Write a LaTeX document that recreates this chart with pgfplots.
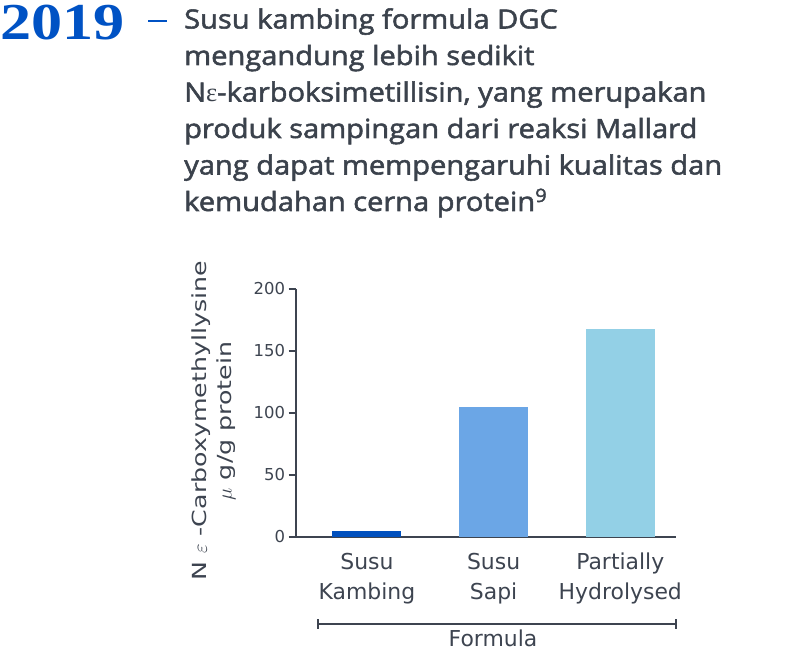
\documentclass[border=0pt]{standalone}
\usepackage{pgfplots}
\pgfplotsset{compat=1.18}
\usepackage{fontspec}
\setmainfont{DejaVu Sans}
\newfontfamily\widefont{DejaVu Sans}[FakeStretch=1.3]
\newfontfamily\ttlfont{Open Sans}[UprightFeatures={FakeBold=2,FakeStretch=1.1}]
\newfontfamily\yearfont{Liberation Serif}[FakeStretch=1.2]
\newfontfamily\grkfont{Liberation Serif}
\definecolor{yearblue}{HTML}{0052C4}
\definecolor{ttlgray}{HTML}{3B424C}
\definecolor{axgray}{HTML}{3D4450}
\definecolor{barA}{HTML}{0050BE}
\definecolor{barB}{HTML}{6BA6E6}
\definecolor{barC}{HTML}{93D0E6}
\begin{document}
\begin{tikzpicture}[x=1bp,y=1bp]
\path[use as bounding box] (0,0) rectangle (800,651);
% heading
\node[anchor=base west, inner sep=0, text=yearblue] at (0,611.5)
  {\yearfont\fontsize{52}{52}\selectfont\bfseries 2019};
\draw[yearblue, line width=2bp] (148,630) -- (167,630);
\begin{scope}[every node/.style={anchor=base west, inner sep=0, text=ttlgray,
    font=\ttlfont\fontsize{26.5}{26.5}\selectfont}]
\node at (184,622.5) {Susu kambing formula DGC};
\node at (184,586) {mengandung lebih sedikit};
\node at (184,549.5) {N{\grkfont ε}-karboksimetillisin, yang merupakan};
\node at (184,513) {produk sampingan dari reaksi Mallard};
\node at (184,476.5) {yang dapat mempengaruhi kualitas dan};
\node at (184,440) {kemudahan cerna protein\textsuperscript{9}};
\end{scope}
\begin{axis}[
  at={(296bp,114bp)}, anchor=south west,
  scale only axis, width=380bp, height=248bp,
  xmin=-0.56, xmax=2.44, ymin=0, ymax=200,
  axis x line*=bottom, axis y line*=left,
  axis line style={draw=axgray, line width=1.3bp, -},
  xtick={0,1,2},
  xticklabels={{Susu\\Kambing},{Susu\\Sapi},{Partially\\Hydrolysed}},
  xticklabel style={align=center, text=axgray, yshift=-5bp,
    font=\fontsize{22}{30}\selectfont},
  x tick style={draw=none},
  ytick={0,50,100,150,200},
  yticklabels={0,50,100,150,200},
  tick align=outside, major tick length=7.5bp,
  y tick style={draw=axgray, line width=1.3bp},
  yticklabel style={text=axgray, font=\fontsize{16.5}{16.5}\selectfont},
  ylabel={N $\varepsilon$ -Carboxymethyllysine\\$\mu$ g/g protein},
  ylabel style={at={(axis description cs:-0.216,0.468)}, anchor=center,
    align=center, text=axgray, font=\widefont\fontsize{19.5}{25}\selectfont},
]
\addplot[ybar, bar width=69bp, bar shift=0pt, fill=barA, draw=none]
  coordinates {(0,5)};
\addplot[ybar, bar width=69bp, bar shift=0pt, fill=barB, draw=none]
  coordinates {(1,105)};
\addplot[ybar, bar width=69bp, bar shift=0pt, fill=barC, draw=none]
  coordinates {(2,168)};
\end{axis}
% bracket under the categories
\draw[axgray, line width=1.3bp] (318,22) -- (318,32);
\draw[axgray, line width=1.3bp] (676,22) -- (676,32);
\draw[axgray, line width=1.3bp] (318,27) -- (676,27);
\node[anchor=base, inner sep=0, text=axgray, font=\fontsize{22}{22}\selectfont]
  at (493,4) {Formula};
\end{tikzpicture}
\end{document}
